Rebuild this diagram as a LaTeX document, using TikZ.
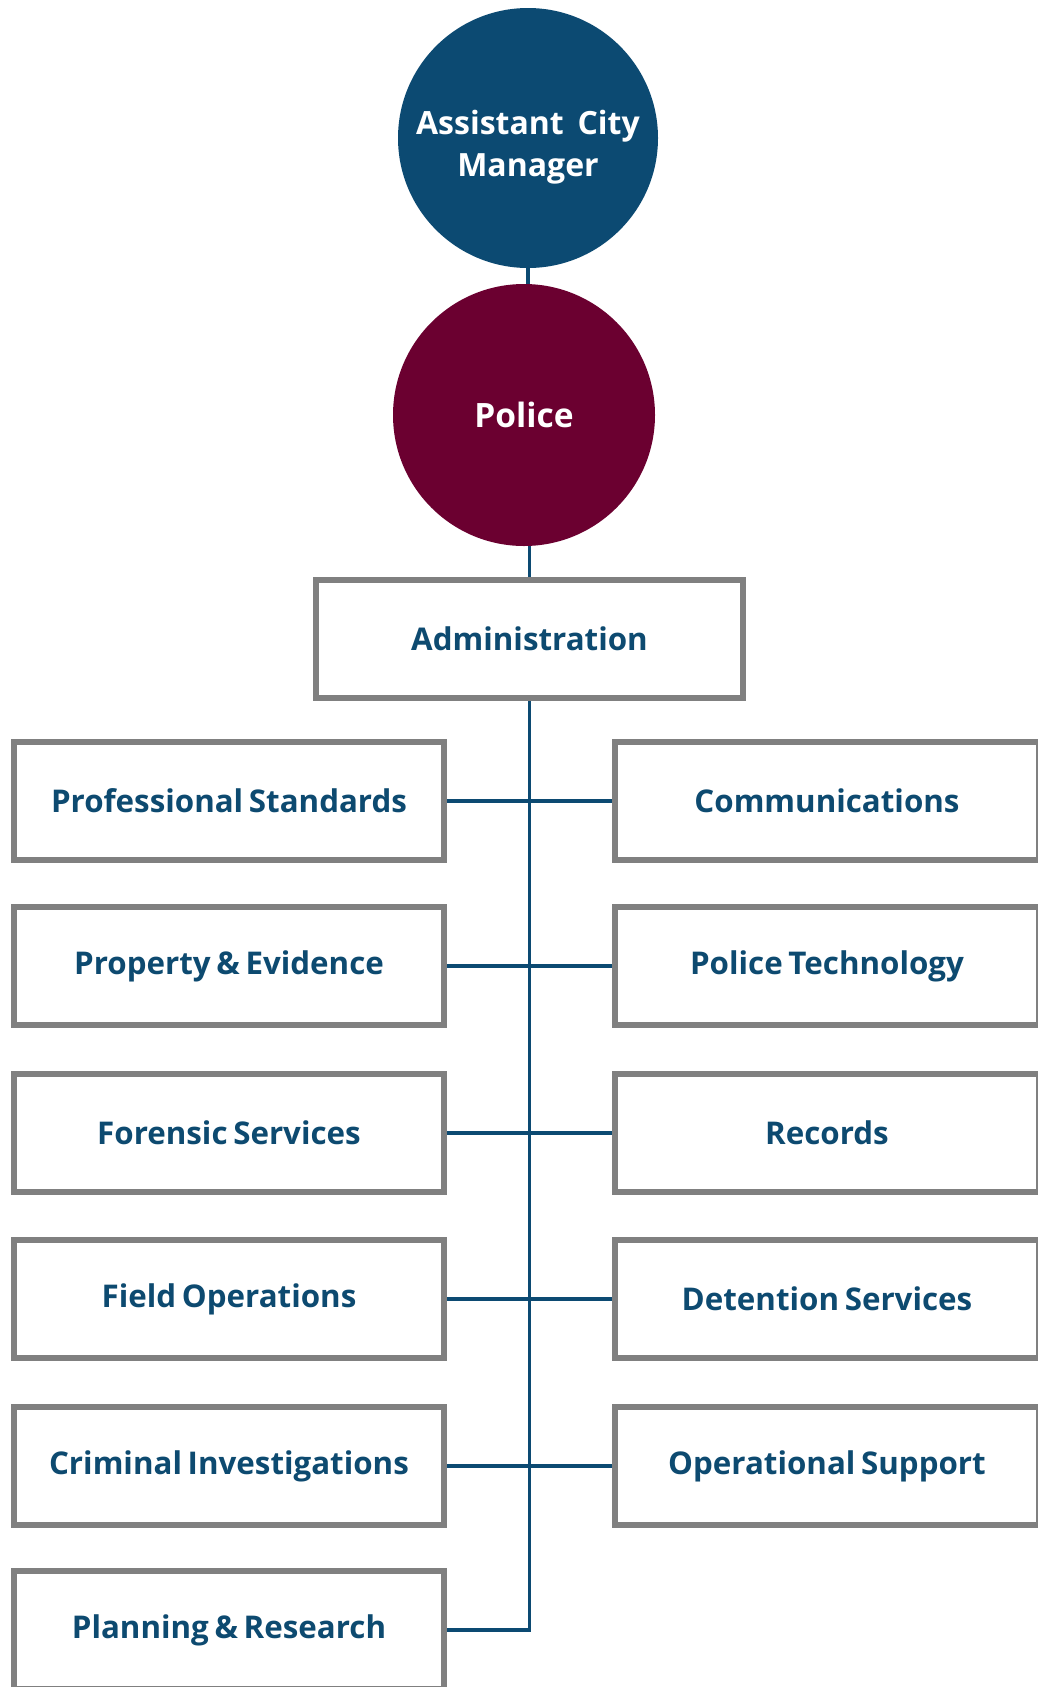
\documentclass[tikz,border=0pt]{standalone}
\usepackage{fontspec}
\setmainfont{Open Sans}[BoldFont={* Bold}, WordSpace=0.7]
\definecolor{navy}{HTML}{0C4A72}
\definecolor{maroon}{HTML}{6B0030}
\definecolor{txtblue}{HTML}{0D4A70}
\definecolor{boxgray}{HTML}{808080}
\tikzset{
  circ/.style={circle, minimum size=260pt, inner sep=0pt, text=white, align=center,
    font=\fontsize{32}{42}\selectfont\bfseries},
  unit/.style={draw=boxgray, line width=6pt, fill=white, minimum height=118pt,
    inner sep=0pt, text=txtblue, font=\fontsize{31.3}{36}\selectfont\bfseries},
  lbox/.style={unit, minimum width=430pt},
  rbox/.style={unit, minimum width=424pt},
  link/.style={draw=navy, line width=3.8pt},
}
\begin{document}
\begin{tikzpicture}[x=1pt,y=-1pt]
\useasboundingbox (0,0) rectangle (1038,1687);
\node[circ, fill=navy] (acm) at (528,138) {\raisebox{-15pt}[0pt][0pt]{\parbox{250pt}{\centering Assistant\hspace{0.25em} City\\Manager}}};
\node[circ, fill=maroon, minimum size=262pt, font=\fontsize{33.5}{40}\selectfont\bfseries] (pol) at (524,415) {Police};
\node[unit, minimum width=427pt] (adm) at (529.5,639) {Administration};

\node[lbox] (L1) at (229,801) {Professional Standards};
\node[lbox] (L2) at (229,966) {Property \& Evidence};
\node[lbox] (L3) at (229,1133) {Forensic Services};
\node[lbox] (L4) at (229,1299) {Field Operations};
\node[lbox] (L5) at (229,1466) {Criminal Investigations};
\node[lbox] (L6) at (229,1630) {Planning \& Research};

\node[rbox] (R1) at (827,801) {Communications};
\node[rbox] (R2) at (827,966) {Police Technology};
\node[rbox] (R3) at (827,1133) {Records};
\node[rbox] (R4) at (827,1299) {Detention Services};
\node[rbox] (R5) at (827,1466) {Operational Support};

\draw[link] (acm.south) -- (acm.south |- pol.north);
\draw[link] (adm.north |- pol.south) -- (adm.north);
\draw[link] (adm.south) |- (L6.east);
\foreach \i in {1,...,5} {\draw[link] (L\i.east) -- (R\i.west);}
\end{tikzpicture}
\end{document}
